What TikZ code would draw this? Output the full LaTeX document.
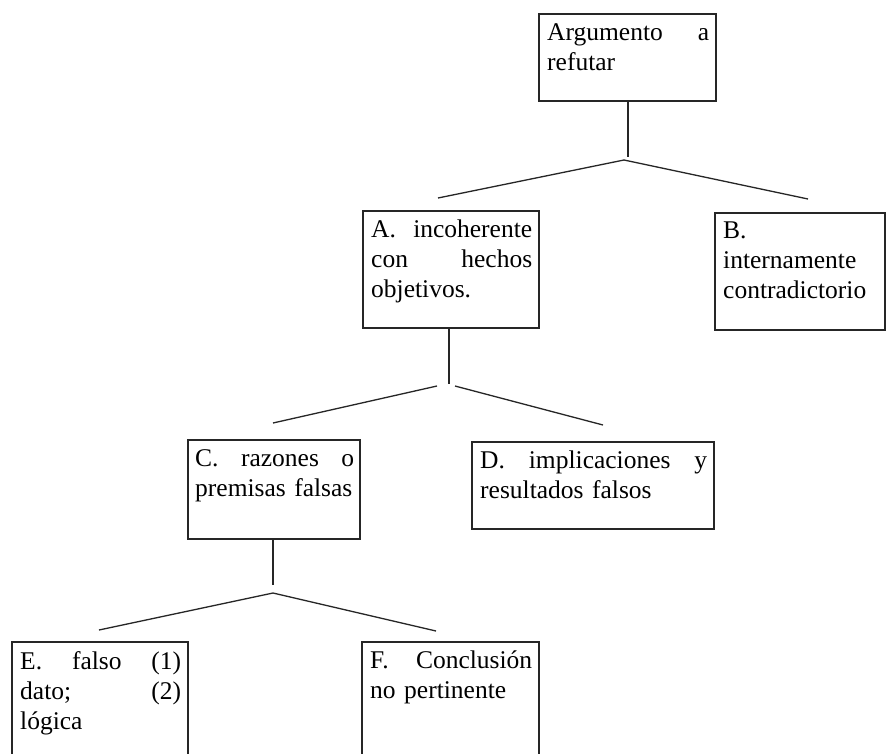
\documentclass[tikz,border=0pt]{standalone}
\usepackage{fontspec}
\setmainfont{Liberation Serif}
\begin{document}
\begin{tikzpicture}[x=1pt,y=-1pt,
  box/.style={draw=black!85, line width=1.3pt, anchor=north west, inner sep=0pt, outer sep=0pt},
  txt/.style={anchor=north west, inner sep=0pt, align=left, font=\fontsize{25.5}{30}\selectfont},
  conn/.style={draw=black!85, line width=1.3pt}]
\clip (0,0) rectangle (886,753);
\fill[white] (0,0) rectangle (886,753);
% boxes
\node[box, minimum width=177pt, minimum height=87pt] (top) at (539,14) {};
\node[box, minimum width=176pt, minimum height=117pt] (A) at (363,211) {};
\node[box, minimum width=170pt, minimum height=117pt] (B) at (715,213) {};
\node[box, minimum width=172pt, minimum height=99pt] (C) at (188,440) {};
\node[box, minimum width=242pt, minimum height=87pt] (D) at (472,442) {};
\node[box, minimum width=176pt, minimum height=130pt] (E) at (12,642) {};
\node[box, minimum width=177pt, minimum height=130pt] (F) at (362,642) {};
% texts
\node[txt, text width=162pt] (topt) at ([xshift=8pt,yshift=-9pt]top.north west) {Argumento\hfill a\\refutar};
\node[txt, text width=161pt] (At) at ([xshift=8pt,yshift=-9pt]A.north west) {A.\hfill incoherente\\con\hfill hechos\\objetivos.};
\node[txt, text width=156pt] (Bt) at ([xshift=8pt,yshift=-9pt]B.north west) {B.\\internamente\\contradictorio};
\node[txt, text width=159pt] (Ct) at ([xshift=7pt,yshift=-9pt]C.north west) {C.\hfill razones\hfill o\\\mbox{premisas falsas}};
\node[txt, text width=227pt] (Dt) at ([xshift=8pt,yshift=-9pt]D.north west) {D.\hfill implicaciones\hfill y\\resultados falsos};
\node[txt, text width=161pt] (Et) at ([xshift=8pt,yshift=-9pt]E.north west) {E.\hfill falso\hfill (1)\\dato;\hfill (2)\\lógica};
\node[txt, text width=162pt] (Ft) at ([xshift=8pt,yshift=-9pt]F.north west) {F.\hfill Conclusión\\no pertinente};
% junction coordinates
\coordinate (v1) at (628,157);
\coordinate (j1) at (624,160);
\coordinate (a1) at (438,198);
\coordinate (b1) at (808,199);
\coordinate (v2) at (449,384);
\coordinate (j2l) at (437,386);
\coordinate (j2r) at (455,386);
\coordinate (c1) at (273,423);
\coordinate (d1) at (603,425);
\coordinate (v3) at (273,585);
\coordinate (j3) at (273,593);
\coordinate (e1) at (99,630);
\coordinate (f1) at (436,631);
% connectors
\draw[conn] (top.south -| v1) -- (v1);
\draw[conn] (a1) -- (j1) -- (b1);
\draw[conn] (A.south -| v2) -- (v2);
\draw[conn] (c1) -- (j2l);
\draw[conn] (j2r) -- (d1);
\draw[conn] (C.south -| v3) -- (v3);
\draw[conn] (e1) -- (j3) -- (f1);
\end{tikzpicture}
\end{document}
